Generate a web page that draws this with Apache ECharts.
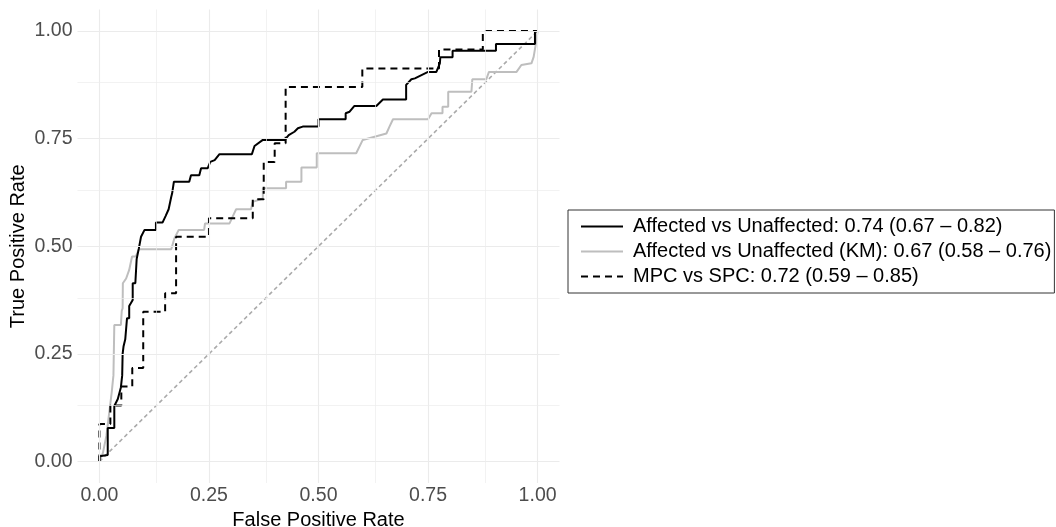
<!DOCTYPE html>
<html>
<head>
<meta charset="utf-8">
<script src="https://cdn.jsdelivr.net/npm/echarts@6/dist/echarts.min.js"></script>
<style>
  html, body { margin: 0; padding: 0; background: #fff; }
  #main { width: 1056px; height: 527px; }
</style>
</head>
<body>
<div id="main"></div>
<script>
// axis ticks
const tickValues = [0, 0.25, 0.5, 0.75, 1];
const minorValues = [0.125, 0.375, 0.625, 0.875];

const seriesNames = [
  'Affected vs Unaffected: 0.74 (0.67 – 0.82)',
  'Affected vs Unaffected (KM): 0.67 (0.58 – 0.76)',
  'MPC vs SPC: 0.72 (0.59 – 0.85)'
];

// Affected vs Unaffected
const affFpr = [0, 0, 0.019, 0.019, 0.034, 0.034, 0.042, 0.049, 0.052, 0.053,
  0.055, 0.059, 0.063, 0.068, 0.068, 0.072, 0.076, 0.076, 0.082, 0.085,
  0.09, 0.095, 0.103, 0.129, 0.129, 0.144, 0.151, 0.158, 0.164, 0.166,
  0.17, 0.205, 0.209, 0.228, 0.232, 0.247, 0.253, 0.263, 0.274, 0.348,
  0.354, 0.373, 0.423, 0.432, 0.445, 0.453, 0.464, 0.5, 0.5, 0.562,
  0.562, 0.571, 0.582, 0.632, 0.647, 0.7, 0.7, 0.712, 0.72, 0.75,
  0.769, 0.777, 0.778, 0.806, 0.806, 0.905, 0.905, 0.994, 0.994, 1];
const affTpr = [0, 0.012, 0.015, 0.078, 0.078, 0.129, 0.145, 0.172, 0.2, 0.25,
  0.267, 0.284, 0.333, 0.333, 0.361, 0.364, 0.375, 0.414, 0.414, 0.47,
  0.495, 0.522, 0.538, 0.538, 0.555, 0.555, 0.57, 0.586, 0.615, 0.623,
  0.65, 0.65, 0.665, 0.665, 0.681, 0.681, 0.696, 0.7, 0.714, 0.714,
  0.733, 0.747, 0.747, 0.758, 0.766, 0.774, 0.778, 0.778, 0.795, 0.795,
  0.809, 0.8125, 0.826, 0.826, 0.841, 0.841, 0.875, 0.888, 0.89, 0.905,
  0.905, 0.925, 0.939, 0.939, 0.954, 0.954, 0.97, 0.97, 0.998, 1];

// Affected vs Unaffected (KM)
const kmFpr = [0, 0.008, 0.016, 0.022, 0.028, 0.032, 0.034, 0.049, 0.051, 0.053,
  0.0535, 0.061, 0.068, 0.0745, 0.083, 0.09, 0.164, 0.171, 0.181, 0.239,
  0.241, 0.297, 0.306, 0.312, 0.346, 0.35, 0.373, 0.373, 0.426, 0.426,
  0.461, 0.461, 0.496, 0.496, 0.586, 0.601, 0.605, 0.655, 0.662, 0.67,
  0.75, 0.758, 0.783, 0.783, 0.796, 0.796, 0.849, 0.851, 0.883, 0.889,
  0.952, 0.963, 0.986, 0.991, 0.996, 1];
const kmTpr = [0, 0.02, 0.06, 0.11, 0.16, 0.2, 0.317, 0.317, 0.35, 0.356,
  0.414, 0.425, 0.445, 0.476, 0.476, 0.493, 0.493, 0.518, 0.538, 0.538,
  0.553, 0.553, 0.573, 0.586, 0.586, 0.603, 0.611, 0.635, 0.635, 0.65,
  0.65, 0.683, 0.683, 0.716, 0.716, 0.747, 0.75, 0.762, 0.778, 0.795,
  0.795, 0.809, 0.809, 0.824, 0.824, 0.859, 0.859, 0.888, 0.888, 0.905,
  0.905, 0.921, 0.925, 0.94, 0.97, 1];

// MPC vs SPC
const mpcFpr = [0, 0, 0.025, 0.025, 0.05, 0.05, 0.075, 0.075, 0.1, 0.1,
  0.15, 0.15, 0.175, 0.175, 0.25, 0.25, 0.35, 0.35, 0.375, 0.375,
  0.4, 0.4, 0.425, 0.425, 0.6, 0.6, 0.775, 0.775, 0.875, 0.875, 1];
const mpcTpr = [0, 0.087, 0.087, 0.13, 0.13, 0.174, 0.174, 0.217, 0.217, 0.348,
  0.348, 0.391, 0.391, 0.522, 0.522, 0.565, 0.565, 0.609, 0.609, 0.696,
  0.696, 0.739, 0.739, 0.87, 0.87, 0.913, 0.913, 0.957, 0.957, 1, 1];

// chance line
const chanceFpr = [0, 1];
const chanceTpr = [0, 1];

const zip = (xs, ys) => xs.map((x, i) => [x, ys[i]]);
const font = 'Liberation Sans, Arial, sans-serif';

// ggplot-like grid lines, drawn as markLines so they span the expanded panel
let gridLines = [];
tickValues.forEach(v => {
  gridLines.push({ xAxis: v, lineStyle: { color: '#ebebeb', width: 1.1 } });
  gridLines.push({ yAxis: v, lineStyle: { color: '#ebebeb', width: 1.1 } });
});
minorValues.forEach(v => {
  gridLines.push({ xAxis: v, lineStyle: { color: '#ededed', width: 0.7 } });
  gridLines.push({ yAxis: v, lineStyle: { color: '#ededed', width: 0.7 } });
});

let myChart = echarts.init(document.getElementById('main'));
let option = {
  animation: false,
  textStyle: { fontFamily: font },
  grid: {
    left: 77.5, top: 9.5, width: 482, height: 473.5,
    containLabel: false,
    outerBoundsMode: 'none'
  },
  legend: {
    data: seriesNames,
    orient: 'vertical',
    left: 568,
    top: 210,
    itemWidth: 42,
    itemHeight: 25,
    itemGap: 0,
    padding: [4, 3, 4, 12],
    borderColor: '#333',
    borderWidth: 1,
    itemStyle: { opacity: 0 },
    textStyle: {
      fontSize: 20, color: '#000', fontFamily: font,
      lineHeight: 25, padding: [0, 0, 0, 5]
    }
  },
  xAxis: {
    type: 'value',
    min: -0.05,
    max: 1.05,
    axisLine: { show: false, onZero: false },
    axisTick: { show: false },
    splitLine: { show: false },
    axisLabel: {
      customValues: tickValues,
      formatter: v => v.toFixed(2),
      color: '#4d4d4d',
      fontSize: 19.5,
      margin: 3
    },
    name: 'False Positive Rate',
    nameLocation: 'middle',
    nameGap: 24,
    nameTextStyle: { color: '#000', fontSize: 20 }
  },
  yAxis: {
    type: 'value',
    min: -0.05,
    max: 1.05,
    axisLine: { show: false, onZero: false },
    axisTick: { show: false },
    splitLine: { show: false },
    axisLabel: {
      customValues: tickValues,
      formatter: v => v.toFixed(2),
      color: '#4d4d4d',
      fontSize: 19.5,
      margin: 5
    },
    name: 'True Positive Rate',
    nameLocation: 'middle',
    nameGap: 49,
    nameTextStyle: { color: '#000', fontSize: 20 }
  },
  series: [
    {
      name: 'grid',
      type: 'line',
      data: [],
      z: 0,
      markLine: {
        silent: true,
        symbol: ['none', 'none'],
        label: { show: false },
        lineStyle: { type: 'solid' },
        data: gridLines
      }
    },
    {
      name: 'chance',
      type: 'line',
      data: zip(chanceFpr, chanceTpr),
      showSymbol: false,
      z: 1,
      lineStyle: { color: '#aaaaaa', width: 1.6, type: [4, 3] }
    },
    {
      name: seriesNames[0],
      type: 'line',
      data: zip(affFpr, affTpr),
      showSymbol: false,
      symbol: 'none',
      z: 3,
      color: '#000',
      lineStyle: { color: '#000', width: 2 }
    },
    {
      name: seriesNames[1],
      type: 'line',
      data: zip(kmFpr, kmTpr),
      showSymbol: false,
      symbol: 'none',
      z: 2,
      color: '#bebebe',
      lineStyle: { color: '#bebebe', width: 2 }
    },
    {
      name: seriesNames[2],
      type: 'line',
      data: zip(mpcFpr, mpcTpr),
      showSymbol: false,
      symbol: 'none',
      z: 3,
      color: '#000',
      lineStyle: { color: '#000', width: 2, type: [7, 5] }
    }
  ]
};
myChart.setOption(option);
</script>
</body>
</html>
